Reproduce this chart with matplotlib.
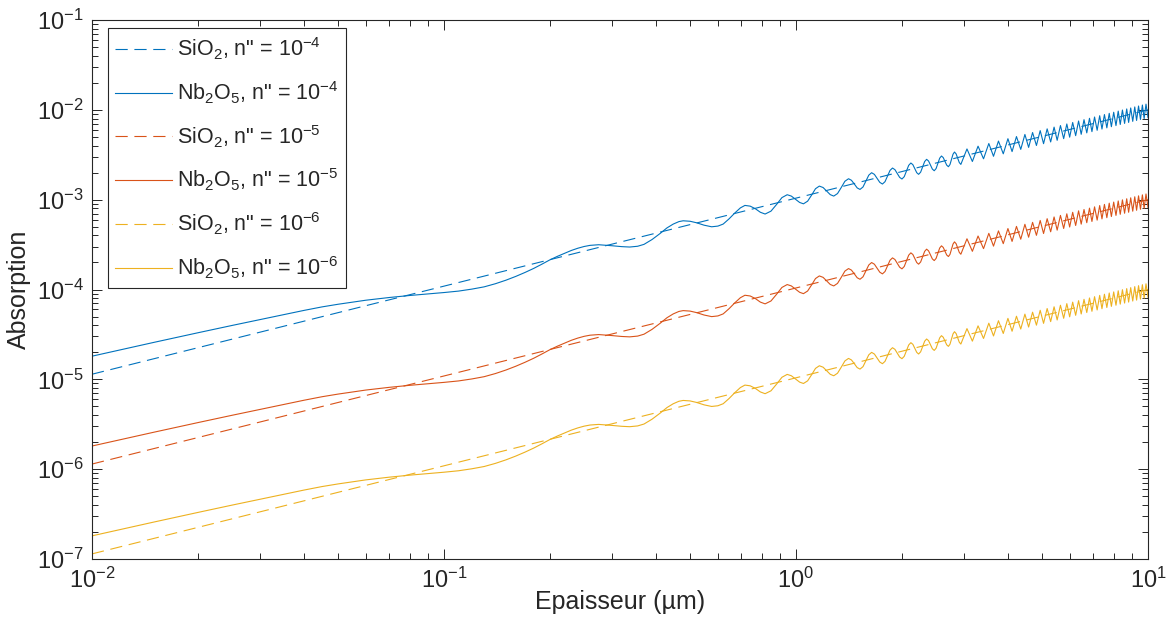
import matplotlib
matplotlib.use("Agg")
import matplotlib.pyplot as plt

# MATLAB default colour order
BLUE   = "#0072BD"
ORANGE = "#D95319"
YELLOW = "#EDB120"
AXCOL  = "#262626"

plt.rcParams["font.family"] = ["Liberation Sans", "DejaVu Sans"]
plt.rcParams["mathtext.fontset"] = "custom"
plt.rcParams["mathtext.rm"] = "Liberation Sans"
plt.rcParams["mathtext.it"] = "Liberation Sans:italic"
plt.rcParams["mathtext.bf"] = "Liberation Sans:bold"

# SiO2 : straight lines on log-log
sio2_x    = [0.01, 0.1, 1.0, 10.0]
sio2_abs4 = [1.14e-5, 1.09e-4, 1.04e-3, 1.00e-2]
sio2_abs5 = [1.14e-6, 1.09e-5, 1.04e-4, 1.00e-3]
sio2_abs6 = [1.14e-7, 1.09e-6, 1.04e-5, 1.00e-4]

# Nb2O5 : thickness points (µm)
nb2o5_x = [
    0.01, 0.015, 0.02, 0.025, 0.03, 0.035, 0.04, 0.045, 0.05, 0.06,
    0.07, 0.08, 0.09, 0.10, 0.11, 0.12, 0.13, 0.14, 0.15, 0.16,
    0.17, 0.18, 0.19, 0.20, 0.21, 0.22, 0.23, 0.24, 0.25, 0.26,
    0.275, 0.30, 0.32, 0.337, 0.355, 0.37, 0.39, 0.411, 0.43, 0.448,
    0.465, 0.478, 0.50, 0.522, 0.548, 0.576, 0.60, 0.621, 0.645, 0.671,
    0.695, 0.716, 0.741, 0.766, 0.792, 0.817, 0.849, 0.881, 0.912, 0.944,
    0.970, 0.997, 1.024, 1.050, 1.079, 1.108, 1.136, 1.165, 1.194, 1.222,
    1.251, 1.280, 1.312, 1.345, 1.377, 1.410, 1.437, 1.465, 1.492, 1.520,
    1.55, 1.58, 1.61, 1.64, 1.67, 1.70, 1.73, 1.76, 1.79, 1.82,
    1.85, 1.88, 1.91, 1.94, 1.97, 2.00, 2.03, 2.06, 2.09, 2.12,
    2.148, 2.175, 2.203, 2.23, 2.26, 2.29, 2.32, 2.35, 2.38, 2.41,
    2.44, 2.47, 2.50, 2.53, 2.56, 2.59, 2.62, 2.65, 2.68, 2.71,
    2.738, 2.765, 2.793, 2.82, 2.85, 2.88, 2.91, 2.94, 3.00, 3.06,
    3.115, 3.17, 3.23, 3.29, 3.35, 3.41, 3.47, 3.53, 3.585, 3.64,
    3.70, 3.76, 3.82, 3.88, 3.94, 4.00, 4.11, 4.23, 4.35, 4.47,
    4.58, 4.70, 4.82, 4.94, 5.05, 5.17, 5.29, 5.41, 5.52, 5.64,
    5.76, 5.88, 5.99, 6.11, 6.23, 6.35, 6.46, 6.58, 6.70, 6.82,
    6.93, 7.05, 7.17, 7.29, 7.40, 7.52, 7.64, 7.76, 7.87, 7.99,
    8.11, 8.23, 8.34, 8.46, 8.58, 8.70, 8.81, 8.93, 9.05, 9.17,
    9.28, 9.40, 9.52, 9.64, 9.75, 9.87, 10.0,
]

nb2o5_abs4 = [
    1.81e-5, 2.58e-5, 3.30e-5, 3.98e-5, 4.62e-5, 5.25e-5, 5.85e-5, 6.40e-5, 6.85e-5, 7.60e-5,
    8.15e-5, 8.58e-5, 8.93e-5, 9.25e-5, 9.60e-5, 1.01e-4, 1.07e-4, 1.16e-4, 1.27e-4, 1.40e-4,
    1.55e-4, 1.72e-4, 1.92e-4, 2.14e-4, 2.34e-4, 2.53e-4, 2.72e-4, 2.88e-4, 3.01e-4, 3.10e-4,
    3.15e-4, 3.07e-4, 3.00e-4, 2.97e-4, 3.03e-4, 3.18e-4, 3.60e-4, 4.20e-4, 4.85e-4, 5.35e-4,
    5.70e-4, 5.82e-4, 5.75e-4, 5.53e-4, 5.20e-4, 4.99e-4, 5.08e-4, 5.35e-4, 6.10e-4, 7.14e-4,
    8.10e-4, 8.63e-4, 8.47e-4, 7.94e-4, 7.24e-4, 6.92e-4, 7.45e-4, 8.86e-4, 1.054e-3, 1.135e-3,
    1.096e-3, 1.010e-3, 9.31e-4, 8.99e-4, 9.62e-4, 1.128e-3, 1.324e-3, 1.416e-3, 1.365e-3, 1.246e-3,
    1.138e-3, 1.096e-3, 1.169e-3, 1.369e-3, 1.603e-3, 1.710e-3, 1.644e-3, 1.491e-3, 1.352e-3, 1.300e-3,
    1.384e-3, 1.611e-3, 1.875e-3, 1.995e-3, 1.912e-3, 1.726e-3, 1.558e-3, 1.493e-3, 1.585e-3, 1.832e-3,
    2.118e-3, 2.249e-3, 2.158e-3, 1.954e-3, 1.770e-3, 1.698e-3, 1.803e-3, 2.084e-3, 2.410e-3, 2.559e-3,
    2.452e-3, 2.213e-3, 1.997e-3, 1.914e-3, 2.025e-3, 2.320e-3, 2.657e-3, 2.812e-3, 2.694e-3, 2.429e-3,
    2.190e-3, 2.099e-3, 2.218e-3, 2.535e-3, 2.897e-3, 3.062e-3, 2.940e-3, 2.669e-3, 2.423e-3, 2.328e-3,
    2.460e-3, 2.808e-3, 3.206e-3, 3.390e-3, 3.235e-3, 2.893e-3, 2.588e-3, 2.470e-3, 3.010e-3, 3.670e-3,
    3.12e-3, 2.66e-3, 3.24e-3, 3.94e-3, 3.35e-3, 2.85e-3, 3.47e-3, 4.22e-3, 3.58e-3, 3.04e-3,
    3.69e-3, 4.49e-3, 3.81e-3, 3.24e-3, 3.93e-3, 4.77e-3, 3.43e-3, 5.04e-3, 3.63e-3, 5.32e-3,
    3.82e-3, 5.59e-3, 4.01e-3, 5.87e-3, 4.20e-3, 6.14e-3, 4.39e-3, 6.42e-3, 4.58e-3, 6.68e-3,
    4.78e-3, 6.96e-3, 4.96e-3, 7.23e-3, 5.16e-3, 7.51e-3, 5.34e-3, 7.77e-3, 5.54e-3, 8.05e-3,
    5.72e-3, 8.32e-3, 5.92e-3, 8.60e-3, 6.11e-3, 8.86e-3, 6.30e-3, 9.14e-3, 6.49e-3, 9.40e-3,
    6.68e-3, 9.68e-3, 6.87e-3, 9.95e-3, 7.06e-3, 1.023e-2, 7.24e-3, 1.049e-2, 7.44e-3, 1.077e-2,
    7.62e-3, 1.103e-2, 7.82e-3, 1.131e-2, 8.00e-3, 1.157e-2, 8.20e-3,
]

nb2o5_abs5 = [
    1.81e-6, 2.58e-6, 3.30e-6, 3.98e-6, 4.62e-6, 5.25e-6, 5.85e-6, 6.40e-6, 6.85e-6, 7.60e-6,
    8.15e-6, 8.58e-6, 8.93e-6, 9.25e-6, 9.60e-6, 1.01e-5, 1.07e-5, 1.16e-5, 1.27e-5, 1.40e-5,
    1.55e-5, 1.72e-5, 1.92e-5, 2.14e-5, 2.34e-5, 2.53e-5, 2.72e-5, 2.88e-5, 3.01e-5, 3.10e-5,
    3.15e-5, 3.07e-5, 3.00e-5, 2.97e-5, 3.03e-5, 3.18e-5, 3.60e-5, 4.20e-5, 4.85e-5, 5.35e-5,
    5.70e-5, 5.82e-5, 5.75e-5, 5.53e-5, 5.20e-5, 4.99e-5, 5.08e-5, 5.35e-5, 6.10e-5, 7.14e-5,
    8.10e-5, 8.63e-5, 8.47e-5, 7.94e-5, 7.24e-5, 6.92e-5, 7.45e-5, 8.86e-5, 1.054e-4, 1.135e-4,
    1.096e-4, 1.010e-4, 9.31e-5, 8.99e-5, 9.62e-5, 1.128e-4, 1.324e-4, 1.416e-4, 1.365e-4, 1.246e-4,
    1.138e-4, 1.096e-4, 1.169e-4, 1.369e-4, 1.603e-4, 1.710e-4, 1.644e-4, 1.491e-4, 1.352e-4, 1.300e-4,
    1.384e-4, 1.611e-4, 1.875e-4, 1.995e-4, 1.912e-4, 1.726e-4, 1.558e-4, 1.493e-4, 1.585e-4, 1.832e-4,
    2.118e-4, 2.249e-4, 2.158e-4, 1.954e-4, 1.770e-4, 1.698e-4, 1.803e-4, 2.084e-4, 2.410e-4, 2.559e-4,
    2.452e-4, 2.213e-4, 1.997e-4, 1.914e-4, 2.025e-4, 2.320e-4, 2.657e-4, 2.812e-4, 2.694e-4, 2.429e-4,
    2.190e-4, 2.099e-4, 2.218e-4, 2.535e-4, 2.897e-4, 3.062e-4, 2.940e-4, 2.669e-4, 2.423e-4, 2.328e-4,
    2.460e-4, 2.808e-4, 3.206e-4, 3.390e-4, 3.235e-4, 2.893e-4, 2.588e-4, 2.470e-4, 3.010e-4, 3.670e-4,
    3.12e-4, 2.66e-4, 3.24e-4, 3.94e-4, 3.35e-4, 2.85e-4, 3.47e-4, 4.22e-4, 3.58e-4, 3.04e-4,
    3.69e-4, 4.49e-4, 3.81e-4, 3.24e-4, 3.93e-4, 4.77e-4, 3.43e-4, 5.04e-4, 3.63e-4, 5.32e-4,
    3.82e-4, 5.59e-4, 4.01e-4, 5.87e-4, 4.20e-4, 6.14e-4, 4.39e-4, 6.42e-4, 4.58e-4, 6.68e-4,
    4.78e-4, 6.96e-4, 4.96e-4, 7.23e-4, 5.16e-4, 7.51e-4, 5.34e-4, 7.77e-4, 5.54e-4, 8.05e-4,
    5.72e-4, 8.32e-4, 5.92e-4, 8.60e-4, 6.11e-4, 8.86e-4, 6.30e-4, 9.14e-4, 6.49e-4, 9.40e-4,
    6.68e-4, 9.68e-4, 6.87e-4, 9.95e-4, 7.06e-4, 1.023e-3, 7.24e-4, 1.049e-3, 7.44e-4, 1.077e-3,
    7.62e-4, 1.103e-3, 7.82e-4, 1.131e-3, 8.00e-4, 1.157e-3, 8.20e-4,
]

nb2o5_abs6 = [
    1.81e-7, 2.58e-7, 3.30e-7, 3.98e-7, 4.62e-7, 5.25e-7, 5.85e-7, 6.40e-7, 6.85e-7, 7.60e-7,
    8.15e-7, 8.58e-7, 8.93e-7, 9.25e-7, 9.60e-7, 1.01e-6, 1.07e-6, 1.16e-6, 1.27e-6, 1.40e-6,
    1.55e-6, 1.72e-6, 1.92e-6, 2.14e-6, 2.34e-6, 2.53e-6, 2.72e-6, 2.88e-6, 3.01e-6, 3.10e-6,
    3.15e-6, 3.07e-6, 3.00e-6, 2.97e-6, 3.03e-6, 3.18e-6, 3.60e-6, 4.20e-6, 4.85e-6, 5.35e-6,
    5.70e-6, 5.82e-6, 5.75e-6, 5.53e-6, 5.20e-6, 4.99e-6, 5.08e-6, 5.35e-6, 6.10e-6, 7.14e-6,
    8.10e-6, 8.63e-6, 8.47e-6, 7.94e-6, 7.24e-6, 6.92e-6, 7.45e-6, 8.86e-6, 1.054e-5, 1.135e-5,
    1.096e-5, 1.010e-5, 9.31e-6, 8.99e-6, 9.62e-6, 1.128e-5, 1.324e-5, 1.416e-5, 1.365e-5, 1.246e-5,
    1.138e-5, 1.096e-5, 1.169e-5, 1.369e-5, 1.603e-5, 1.710e-5, 1.644e-5, 1.491e-5, 1.352e-5, 1.300e-5,
    1.384e-5, 1.611e-5, 1.875e-5, 1.995e-5, 1.912e-5, 1.726e-5, 1.558e-5, 1.493e-5, 1.585e-5, 1.832e-5,
    2.118e-5, 2.249e-5, 2.158e-5, 1.954e-5, 1.770e-5, 1.698e-5, 1.803e-5, 2.084e-5, 2.410e-5, 2.559e-5,
    2.452e-5, 2.213e-5, 1.997e-5, 1.914e-5, 2.025e-5, 2.320e-5, 2.657e-5, 2.812e-5, 2.694e-5, 2.429e-5,
    2.190e-5, 2.099e-5, 2.218e-5, 2.535e-5, 2.897e-5, 3.062e-5, 2.940e-5, 2.669e-5, 2.423e-5, 2.328e-5,
    2.460e-5, 2.808e-5, 3.206e-5, 3.390e-5, 3.235e-5, 2.893e-5, 2.588e-5, 2.470e-5, 3.010e-5, 3.670e-5,
    3.12e-5, 2.66e-5, 3.24e-5, 3.94e-5, 3.35e-5, 2.85e-5, 3.47e-5, 4.22e-5, 3.58e-5, 3.04e-5,
    3.69e-5, 4.49e-5, 3.81e-5, 3.24e-5, 3.93e-5, 4.77e-5, 3.43e-5, 5.04e-5, 3.63e-5, 5.32e-5,
    3.82e-5, 5.59e-5, 4.01e-5, 5.87e-5, 4.20e-5, 6.14e-5, 4.39e-5, 6.42e-5, 4.58e-5, 6.68e-5,
    4.78e-5, 6.96e-5, 4.96e-5, 7.23e-5, 5.16e-5, 7.51e-5, 5.34e-5, 7.77e-5, 5.54e-5, 8.05e-5,
    5.72e-5, 8.32e-5, 5.92e-5, 8.60e-5, 6.11e-5, 8.86e-5, 6.30e-5, 9.14e-5, 6.49e-5, 9.40e-5,
    6.68e-5, 9.68e-5, 6.87e-5, 9.95e-5, 7.06e-5, 1.023e-4, 7.24e-5, 1.049e-4, 7.44e-5, 1.077e-4,
    7.62e-5, 1.103e-4, 7.82e-5, 1.131e-4, 8.00e-5, 1.157e-4, 8.20e-5,
]

LW = 0.8
DASH = (11, 6)

fig = plt.figure(figsize=(11.71, 6.36), dpi=100)
ax = fig.add_axes([92 / 1171, 1 - 559 / 636, (1148 - 92) / 1171, (559 - 20) / 636])

series = [
    (sio2_x,  sio2_abs4,  BLUE,   True,  r'SiO$_{2}$, n" = 10$^{-4}$'),
    (nb2o5_x, nb2o5_abs4, BLUE,   False, r'Nb$_{2}$O$_{5}$, n" = 10$^{-4}$'),
    (sio2_x,  sio2_abs5,  ORANGE, True,  r'SiO$_{2}$, n" = 10$^{-5}$'),
    (nb2o5_x, nb2o5_abs5, ORANGE, False, r'Nb$_{2}$O$_{5}$, n" = 10$^{-5}$'),
    (sio2_x,  sio2_abs6,  YELLOW, True,  r'SiO$_{2}$, n" = 10$^{-6}$'),
    (nb2o5_x, nb2o5_abs6, YELLOW, False, r'Nb$_{2}$O$_{5}$, n" = 10$^{-6}$'),
]
for xs, ys, col, dashed, lbl in series:
    if dashed:
        ax.plot(xs, ys, color=col, linewidth=LW, dashes=DASH, label=lbl)
    else:
        ax.plot(xs, ys, color=col, linewidth=LW, label=lbl)

ax.set_xscale("log")
ax.set_yscale("log")
ax.set_xlim(1e-2, 1e1)
ax.set_ylim(1e-7, 1e-1)

ax.set_xlabel("Epaisseur (µm)", fontsize=18, color=AXCOL, labelpad=-2)
ax.set_ylabel("Absorption", fontsize=18, color=AXCOL, labelpad=4)

ax.tick_params(which="both", direction="in", top=True, right=True,
               colors=AXCOL, width=0.7, labelsize=17)
ax.tick_params(which="major", length=7.5, pad=6)
ax.tick_params(which="minor", length=4)
for sp in ax.spines.values():
    sp.set_color(AXCOL)
    sp.set_linewidth(0.8)

leg = ax.legend(loc="upper left", bbox_to_anchor=(0.015, 0.985),
                borderaxespad=0.0, fontsize=15.5, frameon=True, fancybox=False,
                handlelength=2.65, handletextpad=0.2, labelspacing=0.8,
                borderpad=0.35)
leg.get_frame().set_edgecolor(AXCOL)
leg.get_frame().set_linewidth(0.8)
leg.get_frame().set_alpha(1.0)
for t in leg.get_texts():
    t.set_color(AXCOL)

fig.savefig("out.png", dpi=100)
